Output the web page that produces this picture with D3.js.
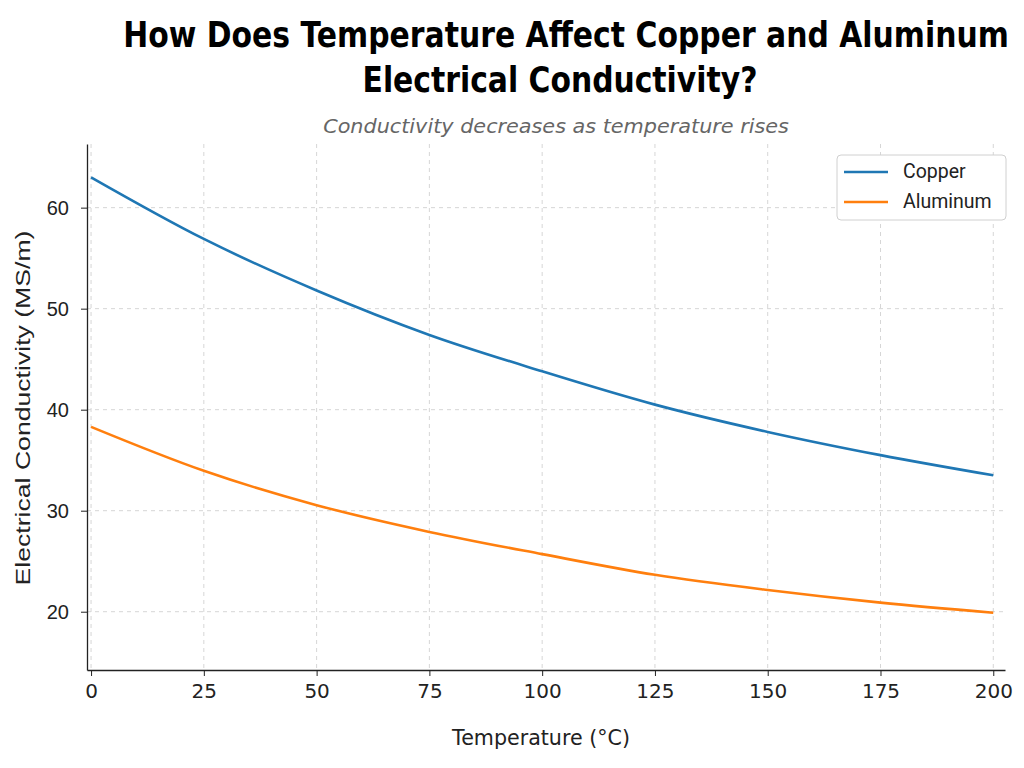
<!DOCTYPE html>
<html>
<head>
<meta charset="utf-8">
<script src="https://cdn.jsdelivr.net/npm/d3@7"></script>
<style>
  body { margin: 0; background: #fff; }
  .tick text { fill: #222; }
  .grid line { stroke: #d6d6d6; stroke-dasharray: 4,4; }
  .title { font-family: "DejaVu Sans", sans-serif; font-weight: bold; }
</style>
</head>
<body>
<svg width="1024" height="768"></svg>
<script>
// Data
const temps = [0, 25, 50, 75, 100, 125, 150, 175, 200];
const copper = [63.0, 56.9, 51.8, 47.4, 43.8, 40.5, 37.8, 35.5, 33.5];
const aluminum = [38.3, 33.95, 30.55, 27.9, 25.7, 23.65, 22.15, 20.9, 19.9];
const xTicks = [0, 25, 50, 75, 100, 125, 150, 175, 200];
const yTicks = [20, 30, 40, 50, 60];
const seriesNames = ["Copper", "Aluminum"];
const colors = ["#1f77b4", "#ff7f0e"];

const svg = d3.select("svg");
const plot = { left: 87, right: 1005, top: 144, bottom: 670 };

// Scales
const x = d3.scaleLinear().domain([-0.9, 202.6]).range([plot.left, plot.right]);
const y = d3.scaleLinear().domain([14.23, 66.3]).range([plot.bottom, plot.top]);

// squeeze a centred text horizontally to a given width (no condensed fonts here)
function squeeze(sel, cx, cy, w, rot) {
  const k = w / sel.node().getComputedTextLength();
  sel.attr("x", 0).attr("y", 0)
    .attr("transform", `translate(${cx}, ${cy})${rot ? " rotate(-90)" : ""} scale(${k}, 1)`);
}

// Grid
svg.append("g")
  .attr("class", "grid")
  .selectAll("line")
  .data(xTicks)
  .join("line")
  .attr("x1", d => x(d)).attr("x2", d => x(d))
  .attr("y1", plot.top).attr("y2", plot.bottom);

svg.append("g")
  .attr("class", "grid")
  .selectAll("line")
  .data(yTicks)
  .join("line")
  .attr("x1", plot.left).attr("x2", plot.right)
  .attr("y1", d => y(d)).attr("y2", d => y(d));

// Axes (tickSize first, it also sets the outer size)
const xAxis = svg.append("g")
  .attr("transform", `translate(0, ${plot.bottom})`)
  .call(d3.axisBottom(x).tickValues(xTicks).tickSize(6).tickSizeOuter(0).tickPadding(8));
xAxis.selectAll("text")
  .style("font-family", "'DejaVu Sans', sans-serif")
  .style("font-size", "20px");

const yAxis = svg.append("g")
  .attr("transform", `translate(${plot.left}, 0)`)
  .call(d3.axisLeft(y).tickValues(yTicks).tickSize(6).tickSizeOuter(0).tickPadding(12));
yAxis.selectAll("text")
  .style("font-family", "'Liberation Sans', Arial, sans-serif")
  .style("font-size", "20px");

svg.selectAll(".domain").attr("stroke", "#222").attr("stroke-width", 1.3);
svg.selectAll(".tick line").attr("stroke", "#222");

// Lines
const line = d3.line()
  .x((d, i) => x(temps[i]))
  .y(d => y(d))
  .curve(d3.curveMonotoneX);

[copper, aluminum].forEach((s, i) => {
  svg.append("path")
    .datum(s)
    .attr("fill", "none")
    .attr("stroke", colors[i])
    .attr("stroke-width", 2.6)
    .attr("d", line);
});

// Titles
svg.append("text")
  .attr("class", "title")
  .attr("text-anchor", "middle")
  .style("font-size", "36px")
  .text("How Does Temperature Affect Copper and Aluminum")
  .call(squeeze, 566, 47, 886);

svg.append("text")
  .attr("class", "title")
  .attr("text-anchor", "middle")
  .style("font-size", "36px")
  .text("Electrical Conductivity?")
  .call(squeeze, 560, 92, 395);

svg.append("text")
  .attr("text-anchor", "middle")
  .style("font-family", "'DejaVu Sans', sans-serif")
  .style("font-style", "italic")
  .style("font-size", "20px")
  .attr("fill", "#666")
  .text("Conductivity decreases as temperature rises")
  .call(squeeze, 556, 133, 466);

// Axis labels
svg.append("text")
  .attr("text-anchor", "middle")
  .style("font-family", "'DejaVu Sans', sans-serif")
  .style("font-size", "21px")
  .attr("fill", "#222")
  .text("Temperature (°C)")
  .call(squeeze, 541, 745, 178);

svg.append("text")
  .attr("text-anchor", "middle")
  .style("font-family", "'Liberation Sans', Arial, sans-serif")
  .style("font-size", "21px")
  .attr("fill", "#222")
  .text("Electrical Conductivity (MS/m)")
  .call(squeeze, 30, 408, 355, true);

// Legend
const legend = svg.append("g").attr("transform", "translate(837, 155)");
legend.append("rect")
  .attr("width", 169).attr("height", 65)
  .attr("rx", 4)
  .attr("fill", "#fff")
  .attr("stroke", "#d0d0d0");

seriesNames.forEach((name, i) => {
  const ly = 17 + i * 30;
  legend.append("line")
    .attr("x1", 7).attr("x2", 51)
    .attr("y1", ly).attr("y2", ly)
    .attr("stroke", colors[i])
    .attr("stroke-width", 2.6);
  legend.append("text")
    .attr("x", 66).attr("y", ly + 6)
    .style("font-family", "Roboto, sans-serif")
    .style("font-size", "19.5px")
    .attr("fill", "#222")
    .text(name);
});
</script>
</body>
</html>
